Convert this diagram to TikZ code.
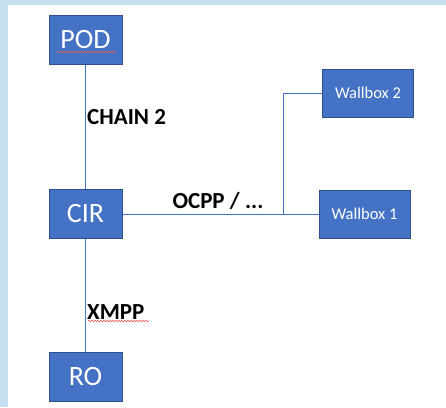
\documentclass[tikz,border=0pt]{standalone}
\usepackage{fontspec}
\setmainfont{Carlito}
\usetikzlibrary{decorations.pathmorphing}
\definecolor{boxblue}{HTML}{4472C4}
\definecolor{boxedge}{HTML}{2F528F}
\definecolor{frameblue}{RGB}{197,222,240}
\definecolor{spellred}{RGB}{230,90,90}
\tikzset{
  x=1pt,y=-1pt,
  bigbox/.style={draw=boxedge,line width=1pt,fill=boxblue,text=white,minimum width=73pt,minimum height=49pt,inner sep=0pt,font=\fontsize{28}{28}\selectfont},
  wallbox/.style={draw=boxedge,line width=1pt,fill=boxblue,text=white,minimum width=91pt,minimum height=48pt,inner sep=0pt,font=\fontsize{16.5}{16.5}\selectfont},
  link/.style={draw=boxblue,line width=0.8pt},
  lbl/.style={font=\bfseries\fontsize{23}{23}\selectfont,inner sep=0pt,text=black},
  spell/.style={draw=spellred,line width=0.6pt,decorate,decoration={snake,segment length=3pt,amplitude=0.8pt}}
}
\begin{document}
\begin{tikzpicture}
\useasboundingbox (0,0) rectangle (446,407);
\fill[frameblue] (0,0) rectangle (446,407);
\fill[white] (8,5) rectangle (446,407);

\node[bigbox] (pod) at (85.5,39.5) {POD};
\node[bigbox] (cir) at (85.5,214) {CIR};
\node[bigbox] (ro) at (85.5,376.5) {RO};
\node[wallbox] (wb2) at (368,93) {Wallbox 2};
\node[wallbox] (wb1) at (364.5,214) {Wallbox 1};

\coordinate (j) at (283,214);
\draw[link] (pod) -- (cir);
\draw[link] (cir) -- (ro);
\draw[link] (cir) -- (wb1);
\draw[link] (j) |- (wb2);

\node[lbl,anchor=west] (chain) at (87,117) {CHAIN 2};
\node[lbl,anchor=west] (xmpp) at (87,312) {XMPP};
\node[lbl] (ocpp) at (218,201) {OCPP / ...};

\draw[spell] (57,52) -- (116,52);
\draw[spell] (88,321) -- (149,321);
\end{tikzpicture}
\end{document}
